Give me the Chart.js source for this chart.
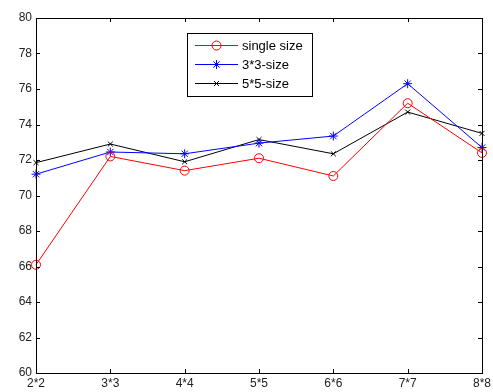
<!DOCTYPE html>
<html>
<head>
<meta charset="utf-8">
<script src="https://cdn.jsdelivr.net/npm/chart.js@4.4.1/dist/chart.umd.min.js"></script>
<style>
  body { margin: 0; background: #fff; }
  #wrap { width: 493px; height: 392px; position: relative; }
</style>
</head>
<body>
<div id="wrap"><canvas id="myChart"></canvas></div>
<script>
const categories = ['2*2', '3*3', '4*4', '5*5', '6*6', '7*7', '8*8'];
const singleSize = [66.1, 72.2, 71.4, 72.1, 71.1, 75.2, 72.4];
const size3x3 = [71.2, 72.45, 72.35, 72.95, 73.35, 76.3, 72.7];
const size5x5 = [71.85, 72.9, 71.9, 73.15, 72.35, 74.7, 73.5];
const yTicks = [60, 62, 64, 66, 68, 70, 72, 74, 76, 78, 80];

const tickFont = { family: 'Liberation Sans, Arial, sans-serif', size: 12 };

// matlab style frame: box all round, ticks pointing in, legend in a box
const matlabFrame = {
    id: 'matlabFrame',
    afterDraw(chart) {
        const c = chart.ctx;
        const a = chart.chartArea;
        const xs = chart.scales.x, ys = chart.scales.y;
        c.save();
        c.strokeStyle = '#000';
        c.lineWidth = 1;
        c.strokeRect(Math.round(a.left) + 0.5, Math.round(a.top) + 0.5,
            Math.round(a.right - a.left), Math.round(a.bottom - a.top));
        c.beginPath();
        const len = 4;
        categories.forEach((_, i) => {
            const px = Math.round(xs.getPixelForValue(i)) + 0.5;
            c.moveTo(px, a.bottom); c.lineTo(px, a.bottom - len);
            c.moveTo(px, a.top); c.lineTo(px, a.top + len);
        });
        yTicks.forEach(v => {
            const py = Math.round(ys.getPixelForValue(v)) + 0.5;
            c.moveTo(a.left, py); c.lineTo(a.left + len, py);
            c.moveTo(a.right, py); c.lineTo(a.right - len, py);
        });
        c.stroke();

        // legend
        const bx = 187.5, by = 33.5, bw = 125, bh = 63;
        c.fillStyle = '#fff';
        c.fillRect(bx, by, bw, bh);
        c.strokeRect(bx, by, bw, bh);
        c.font = '13px Liberation Sans, Arial, sans-serif';
        c.textBaseline = 'middle';
        chart.data.datasets.forEach((ds, i) => {
            const y = 45 + i * 19;
            c.strokeStyle = ds.borderColor;
            c.beginPath();
            c.moveTo(195, y + 0.5); c.lineTo(238, y + 0.5);
            c.stroke();
            c.fillStyle = ds.pointBackgroundColor;
            Chart.helpers.drawPoint(c, {
                pointStyle: ds.pointStyle, radius: ds.pointRadius,
                borderWidth: 1, rotation: 0
            }, 216.5, y + 0.5);
            c.fillStyle = '#000';
            c.fillText(ds.label, 242, y + 1);
        });
        c.restore();
    }
};

new Chart(document.getElementById('myChart'), {
    type: 'line',
    data: {
        labels: categories,
        datasets: [{
            label: 'single size',
            data: singleSize,
            borderColor: '#ff0000',
            pointBorderColor: '#ff0000',
            pointBackgroundColor: 'rgba(255,255,255,0)',
            pointStyle: 'circle',
            pointRadius: 4.5,
            borderWidth: 1
        }, {
            label: '3*3-size',
            data: size3x3,
            borderColor: '#0000ff',
            pointBorderColor: '#0000ff',
            pointBackgroundColor: '#0000ff',
            pointStyle: 'star',
            pointRadius: 4.5,
            borderWidth: 1
        }, {
            label: '5*5-size',
            data: size5x5,
            borderColor: '#000000',
            pointBorderColor: '#000000',
            pointBackgroundColor: '#000000',
            pointStyle: 'crossRot',
            pointRadius: 3.5,
            borderWidth: 1
        }]
    },
    options: {
        responsive: true,
        maintainAspectRatio: false,
        animation: false,
        layout: { padding: { top: 18, right: 11, left: 0, bottom: 0 } },
        elements: { line: { tension: 0 }, point: { pointBorderWidth: 1 } },
        datasets: { line: { clip: false } },
        plugins: { legend: { display: false }, tooltip: { enabled: false } },
        scales: {
            x: {
                offset: false,
                grid: { display: false, drawTicks: false },
                border: { display: false },
                ticks: { font: tickFont, color: '#222', padding: 3, autoSkip: false, maxRotation: 0 },
                afterFit(s) { s.height = 19; s.paddingLeft = 0; s.paddingRight = 0; }
            },
            y: {
                min: 60,
                max: 80,
                grid: { display: false, drawTicks: false },
                border: { display: false },
                afterBuildTicks(s) { s.ticks = yTicks.map(v => ({ value: v })); },
                ticks: { font: tickFont, color: '#222', padding: 4 },
                afterFit(s) { s.width = 36; s.paddingTop = 0; s.paddingBottom = 0; }
            }
        }
    },
    plugins: [matlabFrame]
});
</script>
</body>
</html>
